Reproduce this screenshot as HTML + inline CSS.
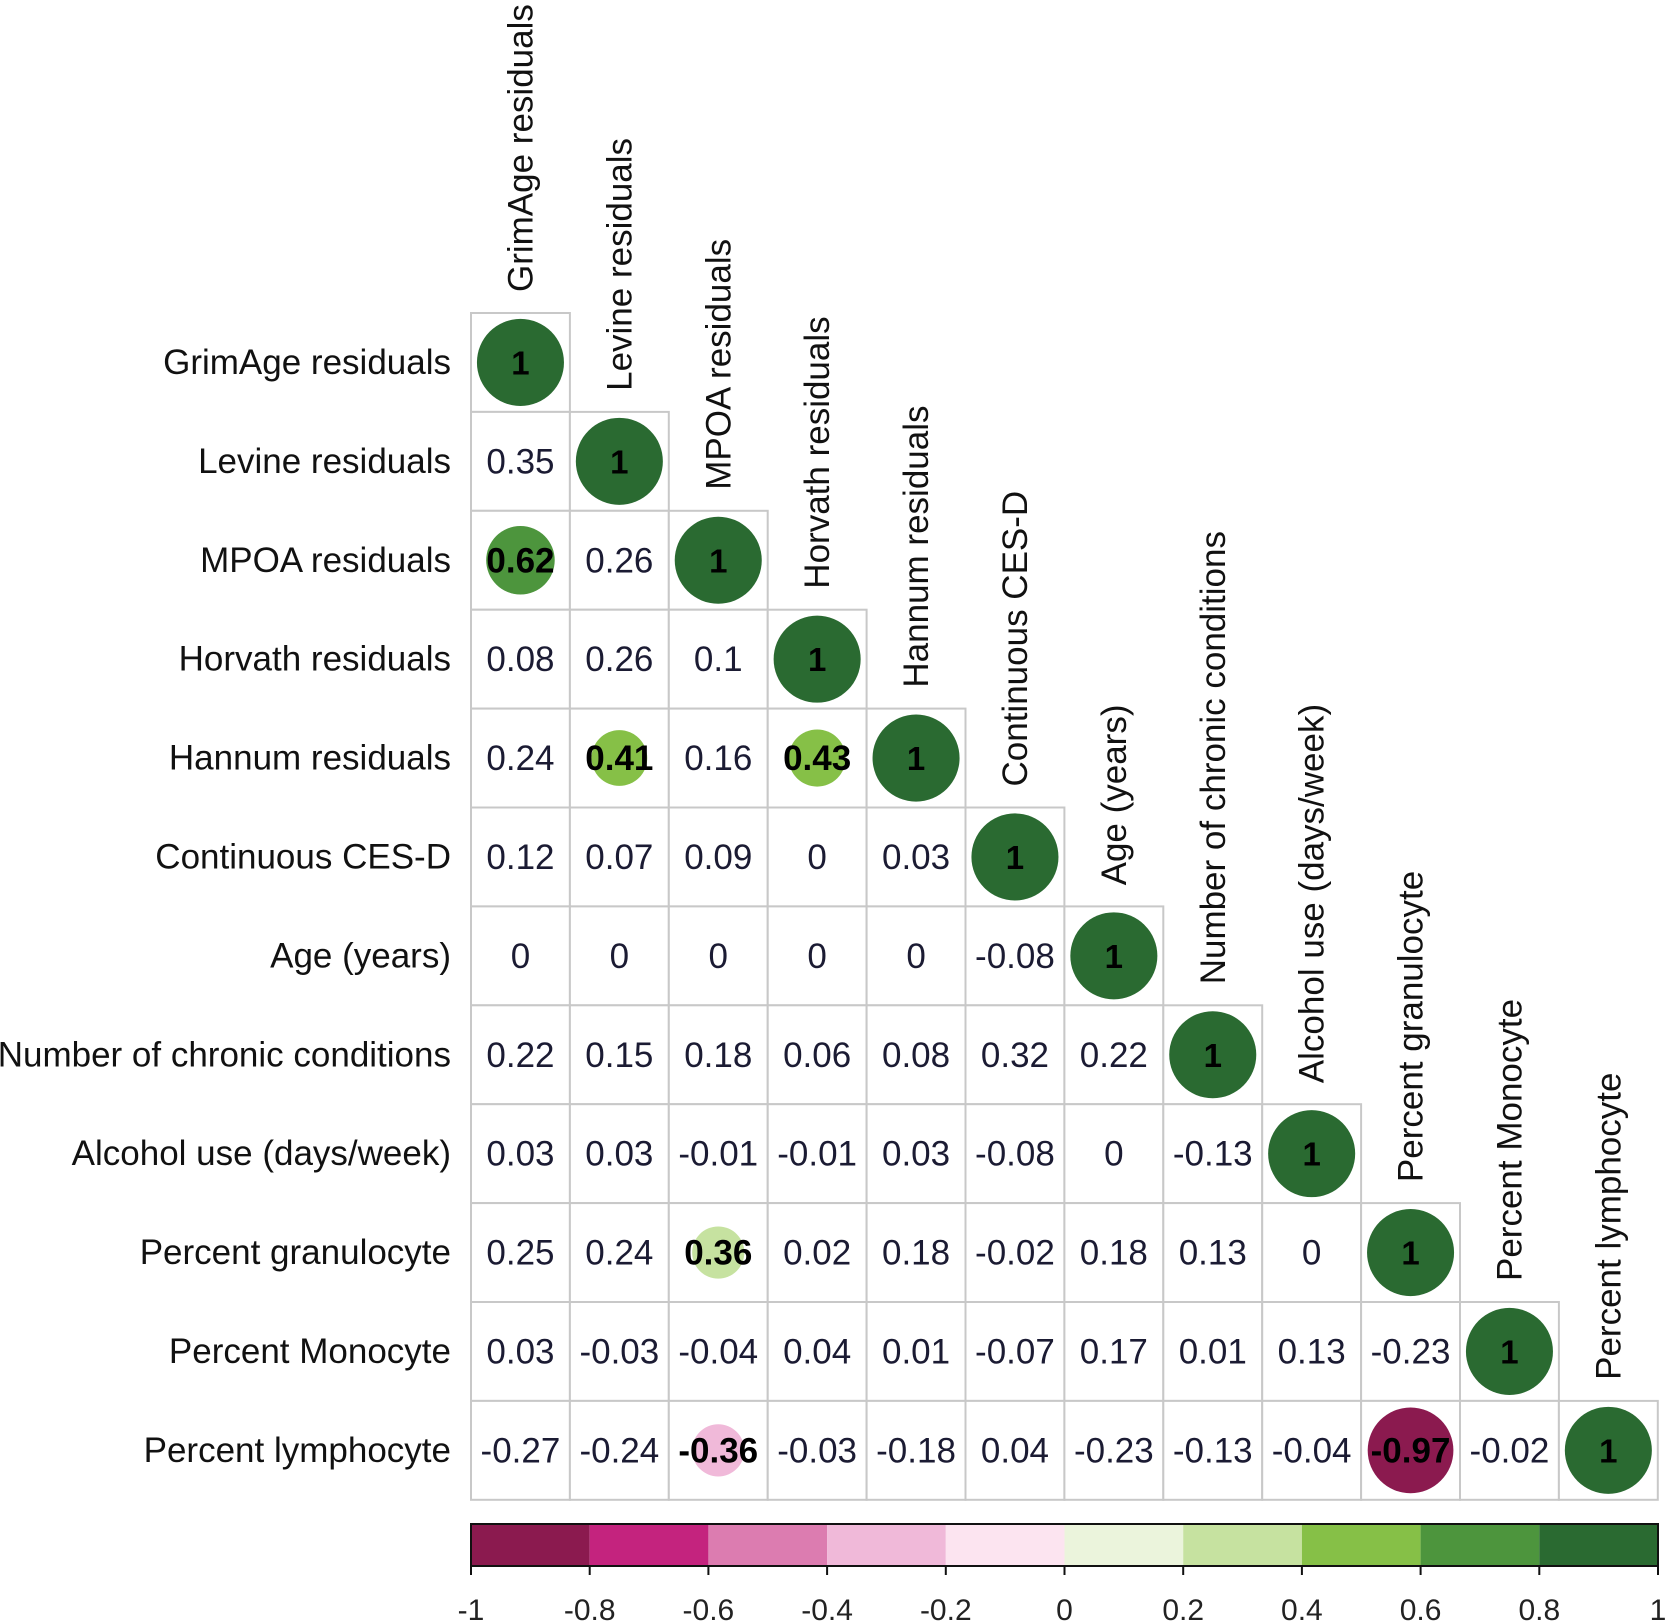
<!DOCTYPE html>
<html><head><meta charset="utf-8">
<style>
html,body{margin:0;padding:0;background:#fff;}
svg{display:block;font-family:"Liberation Sans",Arial,sans-serif;}
</style></head>
<body>
<svg id="chart" width="1666" height="1624" viewBox="0 0 1666 1624" xmlns="http://www.w3.org/2000/svg"></svg>
<script>
const variables = ["GrimAge residuals","Levine residuals","MPOA residuals","Horvath residuals","Hannum residuals","Continuous CES-D","Age (years)","Number of chronic conditions","Alcohol use (days/week)","Percent granulocyte","Percent Monocyte","Percent lymphocyte"];
const row0 = [1];
const row1 = [0.35,1];
const row2 = [0.62,0.26,1];
const row3 = [0.08,0.26,0.1,1];
const row4 = [0.24,0.41,0.16,0.43,1];
const row5 = [0.12,0.07,0.09,0,0.03,1];
const row6 = [0,0,0,0,0,-0.08,1];
const row7 = [0.22,0.15,0.18,0.06,0.08,0.32,0.22,1];
const row8 = [0.03,0.03,-0.01,-0.01,0.03,-0.08,0,-0.13,1];
const row9 = [0.25,0.24,0.36,0.02,0.18,-0.02,0.18,0.13,0,1];
const row10 = [0.03,-0.03,-0.04,0.04,0.01,-0.07,0.17,0.01,0.13,-0.23,1];
const row11 = [-0.27,-0.24,-0.36,-0.03,-0.18,0.04,-0.23,-0.13,-0.04,-0.97,-0.02,1];
const matrix = [row0,row1,row2,row3,row4,row5,row6,row7,row8,row9,row10,row11];
const circleThreshold = 0.36;
const colorBreaks = [-1,-0.8,-0.6,-0.4,-0.2,0,0.2,0.4,0.6,0.8,1];
const tickLabels = ["-1","-0.8","-0.6","-0.4","-0.2","0","0.2","0.4","0.6","0.8","1"];
const binColors = ["#8b1a4f","#c4237e","#dc7cb0","#f0b9d9","#fce4f0","#ebf4dc","#c6e2a0","#86c047","#4d953d","#2a6a31"];

const NS="http://www.w3.org/2000/svg";
const svg=document.getElementById('chart');
const gx0=471, gy0=313, cell=98.9;
const xPos=j=>gx0+j*cell;
const yPos=i=>gy0+i*cell;
const cbX0=471, cbX1=1658, cbY0=1524, cbY1=1566;
const cbScale=v=>cbX0+(v+1)/2*(cbX1-cbX0);
function colorFor(v){for(let k=0;k<binColors.length;k++){if(v<=colorBreaks[k+1])return binColors[k];}return binColors[binColors.length-1];}
function mk(tag,attrs,parent){const e=document.createElementNS(NS,tag);for(const k in attrs)e.setAttribute(k,attrs[k]);(parent||svg).appendChild(e);return e;}

// row labels and column labels
variables.forEach((v,i)=>{
  const t=mk('text',{x:451,y:yPos(i)+cell/2,'text-anchor':'end','dominant-baseline':'central','font-size':35,fill:'#111'});
  
  
  t.textContent=v;
  const cx=xPos(i)+cell/2, by=yPos(i)-21;
  const c=mk('text',{x:0,y:0,transform:`translate(${cx+12},${by}) rotate(-90)`,'text-anchor':'start','font-size':35,fill:'#111'});
  
  
  c.textContent=v;
});

// cells
matrix.forEach((row,i)=>{
  row.forEach((val,j)=>{
    const g=mk('g',{});
    
    
    mk('rect',{x:xPos(j),y:yPos(i),width:cell,height:cell,fill:'#fff',stroke:'#c8c8c8','stroke-width':2},g);
    const cx=xPos(j)+cell/2, cy=yPos(i)+cell/2;
    const lbl=(i===j)?'1':String(val);
    if(Math.abs(val)>=circleThreshold){
      const r=Math.sqrt(Math.abs(val))*cell*0.44;
      const c=mk('circle',{cx:cx,cy:cy,r:r,fill:colorFor(val)},g);
      
      
      const t=mk('text',{x:cx,y:cy+12,'text-anchor':'middle','font-size':i===j?33:35,'font-weight':'bold',fill:'#000'},g);
      
      
      t.textContent=lbl;
    }else{
      const t=mk('text',{x:cx,y:cy+12,'text-anchor':'middle','font-size':35,fill:'#1b1b33'},g);
      
      
      t.textContent=lbl;
    }
  });
});

// colorbar
const cb=mk('g',{});


binColors.forEach((col,k)=>{
  const r=mk('rect',{x:cbScale(colorBreaks[k]),y:cbY0,width:cbScale(colorBreaks[k+1])-cbScale(colorBreaks[k]),height:cbY1-cbY0,fill:col},cb);
  
  
});
mk('rect',{x:cbX0,y:cbY0,width:cbX1-cbX0,height:cbY1-cbY0,fill:'none',stroke:'#111','stroke-width':2},cb);
tickLabels.forEach((lab,k)=>{
  const x=cbScale(colorBreaks[k]);
  mk('line',{x1:x,y1:cbY1,x2:x,y2:cbY1+9,stroke:'#111','stroke-width':2},cb);
  const t=mk('text',{x:x,y:1620,'text-anchor':'middle','font-size':30,fill:'#222'},cb);
  
  
  t.textContent=lab;
});
</script>
</body></html>
